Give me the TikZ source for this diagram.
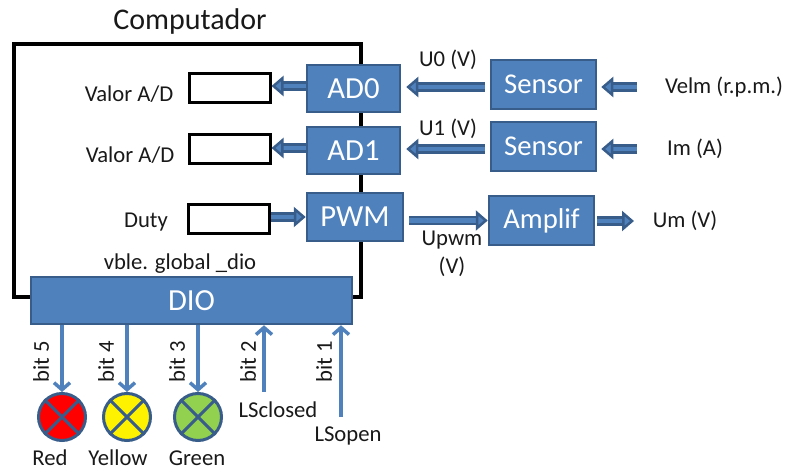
\documentclass[tikz,border=0pt]{standalone}
\usepackage{fontspec}
\setmainfont{Carlito}
\usetikzlibrary{arrows.meta}
\def\u{0.75pt}
\definecolor{boxblue}{HTML}{4F81BD}
\definecolor{edgeblue}{HTML}{385D8A}
\definecolor{ledgreen}{HTML}{92D050}
\tikzset{
    label text/.style={inner sep=0pt, font=\fontsize{17}{21}\selectfont, text=black!90, align=center},
    block/.style={draw=edgeblue, fill=boxblue, line width=2.5*\u, inner sep=0pt, text=white, font=\fontsize{21.5}{24}\selectfont},
    register/.style={draw=black, fill=white, line width=3*\u, inner sep=0pt, minimum width=81*\u, minimum height=29*\u},
    led/.style={circle, draw=edgeblue, line width=3*\u, inner sep=0pt, minimum size=47*\u},
    ledcross/.style={draw=edgeblue, line width=3*\u},
    bigarrow/.style={draw=edgeblue, line width=2.5*\u, double=boxblue, double distance=4.5*\u, -{Triangle[length=12*\u, width=20*\u, fill=boxblue, line width=2.5*\u]}},
    bitarrow/.style={draw=boxblue, line width=3.5*\u, -{Straight Barb[length=7*\u, width=16*\u, line width=3.5*\u]}},
}
\begin{document}
\begin{tikzpicture}[x=\u, y=-\u]
    \useasboundingbox (0,0) rectangle (785,470);

    \node[draw=black, line width=3.5*\u, minimum width=347*\u, minimum height=253*\u, inner sep=0pt] (comp) at (187.5,170.5) {};
    \node[label text, font=\fontsize{22.5}{26}\selectfont] (comptitle) at (190,22) {Computador};

    % registers
    \node[register] (reg0) at (229.5,88) {};
    \node[register] (reg1) at (229.5,149.5) {};
    \node[register] (reg2) at (228.5,219.5) {};
    \node[label text] (val0) at (129,94) {Valor A/D};
    \node[label text] (val1) at (130,155) {Valor A/D};
    \node[label text] (duty) at (146,222) {Duty};

    % blocks
    \node[block, font=\fontsize{23}{26}\selectfont, minimum width=93*\u, minimum height=47*\u] (ad0) at (353.5,88.5) {AD0};
    \node[block, font=\fontsize{23}{26}\selectfont, minimum width=93*\u, minimum height=47*\u] (ad1) at (353.5,150.5) {AD1};
    \node[block, font=\fontsize{23}{26}\selectfont, minimum width=96*\u, minimum height=48*\u] (pwm) at (355,217) {PWM};
    \node[block, minimum width=105*\u, minimum height=49*\u] (sensor0) at (543.5,84.5) {Sensor};
    \node[block, minimum width=105*\u, minimum height=49*\u] (sensor1) at (543.5,146.5) {Sensor};
    \node[block, minimum width=105*\u, minimum height=49*\u] (amplif) at (541.5,220.5) {Amplif};
    \node[block, font=\fontsize{23}{26}\selectfont, minimum width=321*\u, minimum height=47*\u] (dio) at (191.5,300.5) {DIO};

    \node[label text] (velm) at (724,87) {Velm (r.p.m.)};
    \node[label text] (im) at (695,149) {Im (A)};
    \node[label text] (um) at (685,221) {Um (V)};
    \node[label text] (u0) at (448,60) {U0 (V)};
    \node[label text] (u1) at (448,129) {U1 (V)};
    \node[label text] (upwm) at (452,254) {Upwm\\(V)};
    \node[label text] (dionote) at (180,264) {vble. global \_dio};

    \coordinate (in0) at (637,87);
    \coordinate (in1) at (637,149);
    \coordinate (out) at (634,221);
    \coordinate (lsclosedend) at (264,392);
    \coordinate (lsopenend) at (341,417);

    \draw[bigarrow] (ad0.west |- 0,86) -- (reg0.east |- 0,86);
    \draw[bigarrow] (ad1.west |- 0,148) -- (reg1.east |- 0,148);
    \draw[bigarrow] (reg2.east |- 0,217) -- (pwm.west |- 0,217);
    \draw[bigarrow, shorten >=5*\u, shorten <=5*\u] (sensor0.west |- in0) -- (ad0.east |- in0);
    \draw[bigarrow, shorten >=5*\u, shorten <=5*\u] (sensor1.west |- in1) -- (ad1.east |- in1);
    \draw[bigarrow, shorten >=4*\u] (in0) -- (sensor0.east |- in0);
    \draw[bigarrow, shorten >=4*\u] (in1) -- (sensor1.east |- in1);
    \draw[bigarrow, shorten <=5*\u] (pwm.east |- amplif) -- (amplif.west);
    \draw[bigarrow, shorten <=2*\u] (amplif.east |- out) -- (out);

    % leds
    \node[led, fill=red] (ledred) at (62,417) {};
    \node[led, fill=yellow] (ledyellow) at (127,417) {};
    \node[led, fill=ledgreen] (ledgreen) at (198,417) {};
    \foreach \n in {ledred,ledyellow,ledgreen} {
        \draw[ledcross] (\n.45) -- (\n.225);
        \draw[ledcross] (\n.135) -- (\n.315);
    }
    \node[label text] (red) at (50,458) {Red};
    \node[label text] (yellow) at (118,458) {Yellow};
    \node[label text] (green) at (197,458) {Green};
    \node[label text] (lsclosed) at (278,410) {LSclosed};
    \node[label text] (lsopen) at (348,436) {LSopen};

    \draw[bitarrow] (dio.south -| ledred) -- (ledred.north);
    \draw[bitarrow] (dio.south -| ledyellow) -- (ledyellow.north);
    \draw[bitarrow] (dio.south -| ledgreen) -- (ledgreen.north);
    \draw[bitarrow] (lsclosedend) -- (dio.south -| lsclosedend);
    \draw[bitarrow] (lsopenend) -- (dio.south -| lsopenend);

    \node[label text, rotate=90] (bit5) at (41,362) {bit 5};
    \node[label text, rotate=90] (bit4) at (106,362) {bit 4};
    \node[label text, rotate=90] (bit3) at (177,362) {bit 3};
    \node[label text, rotate=90] (bit2) at (248,362) {bit 2};
    \node[label text, rotate=90] (bit1) at (324,362) {bit 1};
\end{tikzpicture}
\end{document}
